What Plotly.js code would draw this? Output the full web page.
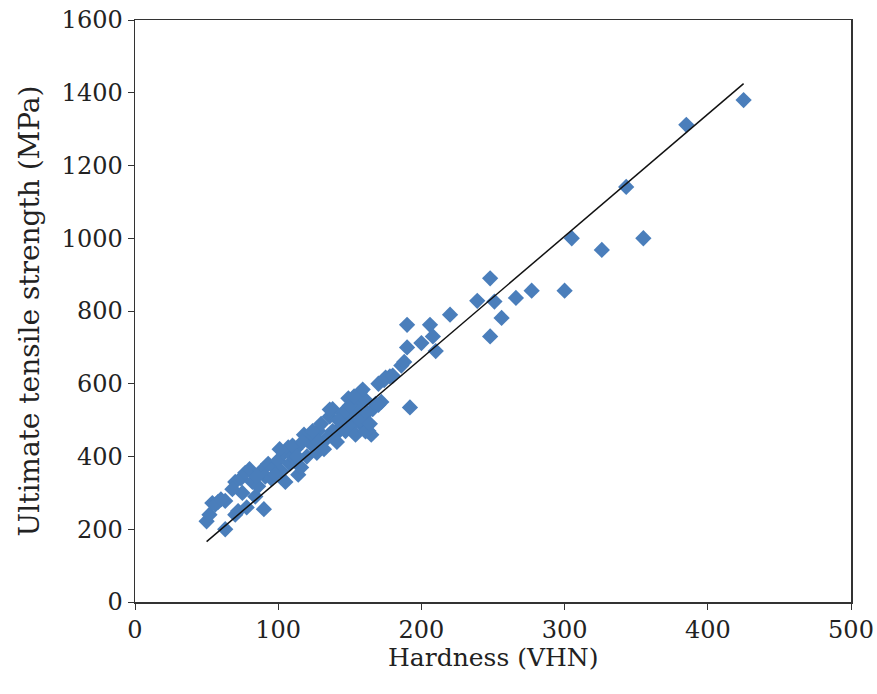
<!DOCTYPE html>
<html>
<head>
<meta charset="utf-8">
<script src="https://cdn.plot.ly/plotly-3.0.1.min.js"></script>
<style>html,body{margin:0;padding:0;background:#fff;}#chart{width:877px;height:694px;}</style>
</head>
<body>
<div id="chart"></div>
<script>
// Hardness (VHN)
const hardness = [50, 52, 54, 58, 63, 63, 70, 70, 72, 74, 75, 77, 78, 80, 82, 84, 86, 88, 90, 91,
  93, 95, 97, 100, 102, 104, 105, 107, 108, 110, 112, 114, 116, 118, 120, 122, 124, 127, 128, 130,
  132, 134, 136, 138, 140, 141, 143, 145, 147, 149, 150, 152, 154, 155, 157, 158, 160, 161, 163, 165,
  166, 168, 170, 172, 174, 178, 186, 188, 190, 190, 192, 200, 206, 208, 210, 220, 239, 248, 248, 251,
  256, 266, 277, 300, 305, 326, 343, 355, 385, 425, 110, 125, 148, 159, 170, 175, 180, 161, 136, 117,
  145, 150, 153, 157, 162, 164, 138, 142, 128, 124, 113, 101, 98, 85, 68, 56, 60];
// Ultimate tensile strength (MPa)
const uts = [222, 240, 272, 275, 200, 278, 240, 330, 250, 340, 300, 355, 260, 365, 330, 290, 318, 360, 255, 345,
  380, 340, 370, 390, 360, 410, 330, 425, 380, 400, 420, 350, 370, 460, 400, 440, 430, 410, 470, 490,
  420, 450, 510, 530, 460, 440, 480, 500, 470, 560, 520, 490, 460, 540, 575, 510, 480, 555, 470, 460,
  530, 545, 600, 550, 610, 620, 650, 660, 700, 762, 535, 712, 762, 730, 690, 790, 828, 890, 730, 826,
  781, 836, 856, 856, 1000, 968, 1141, 1000, 1312, 1380, 430, 455, 515, 584, 542, 617, 622, 469, 529, 440,
  520, 540, 565, 500, 520, 490, 470, 500, 440, 470, 400, 420, 350, 345, 310, 268, 282];
// Linear trendline end points
const trendX = [50, 425];
const trendY = [166, 1425];

const tickVals = [0, 200, 400, 600, 800, 1000, 1200, 1400, 1600];
const xTickVals = [0, 100, 200, 300, 400, 500];
const xTitle = 'Hardness (VHN)';
const yTitle = 'Ultimate tensile strength (MPa)';

const fam = 'DejaVu Serif, Liberation Serif, serif';
const tickFont = {family: fam, size: 24, color: '#222'};
const xTitleFont = {family: fam, size: 25, color: '#222'};
const yTitleFont = {family: fam, size: 28, color: '#222'};

const data = [
  {x: hardness, y: uts, type: 'scatter', mode: 'markers',
   marker: {symbol: 'diamond', size: 12.5, color: '#4a7ebb', line: {width: 0}}, showlegend: false},
  {x: trendX, y: trendY, type: 'scatter', mode: 'lines',
   line: {color: '#111', width: 1.5}, showlegend: false}
];

const layout = {
  width: 877, height: 694,
  margin: {l: 135, r: 26, t: 20, b: 92},
  paper_bgcolor: '#fff', plot_bgcolor: '#fff',
  font: tickFont,
  xaxis: {range: [0, 500], tickvals: xTickVals, ticks: 'outside', ticklen: 6, tickcolor: '#333',
    showline: true, linecolor: '#333', linewidth: 1.5, mirror: true, showgrid: false, zeroline: false,
    tickfont: tickFont, automargin: false},
  yaxis: {range: [0, 1600], tickvals: tickVals, ticks: 'outside', ticklen: 6, tickcolor: '#333',
    showline: true, linecolor: '#333', linewidth: 1.5, mirror: true, showgrid: false, zeroline: false,
    tickfont: tickFont, title: {text: yTitle, font: yTitleFont, standoff: 14}, automargin: false},
  annotations: [{text: xTitle, font: xTitleFont, showarrow: false, xref: 'paper', yref: 'paper',
    x: 0.5, y: -0.095, xanchor: 'center', yanchor: 'middle'}]
};

Plotly.newPlot('chart', data, layout, {displayModeBar: false, staticPlot: true});
</script>
</body>
</html>
